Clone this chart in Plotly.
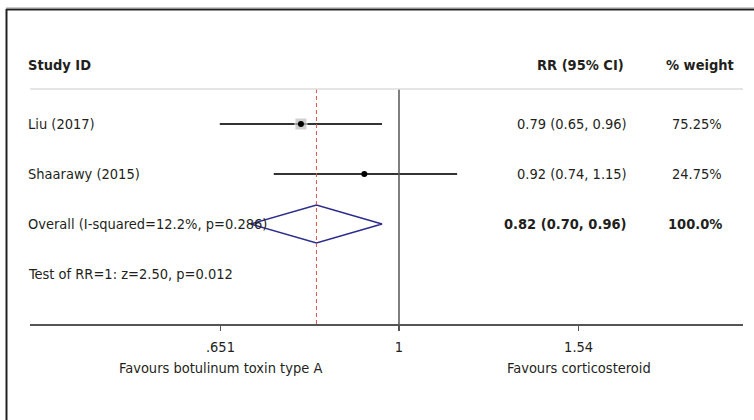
import math
import plotly.graph_objects as go

# ---------------- data ----------------
studies = ["Liu (2017)", "Shaarawy (2015)"]
rr = [0.79, 0.92]
ci_low = [0.65, 0.74]
ci_high = [0.96, 1.15]
weights = [75.25, 24.75]
rr_text = ["0.79 (0.65, 0.96)", "0.92 (0.74, 1.15)"]
weight_text = ["75.25%", "24.75%"]

overall_label = "Overall (I-squared=12.2%, p=0.286)"
overall_rr = 0.82
overall_low = 0.70
overall_high = 0.96
overall_rr_text = "0.82 (0.70, 0.96)"
overall_weight_text = "100.0%"
test_label = "Test of RR=1: z=2.50, p=0.012"

tick_vals = [0.651, 1, 1.54]
tick_text = [".651", "1", "1.54"]
favours_left = "Favours botulinum toxin type A"
favours_right = "Favours corticosteroid"

# ---------------- layout helpers ----------------
W, H = 754, 420
OFF = 0  # body margin removed via post_script
P_LEFT, P_RIGHT, P_TOP, P_BOT = 30, 743, 89, 324
ML = P_LEFT - OFF
MR = W - (P_RIGHT - OFF)
MT = P_TOP - OFF
MB = H - (P_BOT - OFF)
PW = P_RIGHT - P_LEFT
PH = P_BOT - P_TOP
FONT = "Liberation Sans Narrow, DejaVu Sans Condensed, Arial Narrow, sans-serif"
TXT = "#231f20"
FS = 14.5


def px(x):
    return (x - P_LEFT) / PW


def py(y):
    return (P_BOT - y) / PH


rows = [1, 2]
row_overall = 3
row_test = 4

fig = go.Figure()

# CI lines
for i in range(len(studies)):
    fig.add_trace(go.Scatter(x=[ci_low[i], ci_high[i]], y=[rows[i], rows[i]], mode="lines",
                             line=dict(color="#333333", width=2), hoverinfo="skip", showlegend=False))

# weight boxes
fig.add_trace(go.Scatter(x=rr, y=rows, mode="markers",
                         marker=dict(symbol="square", color="#bdbdbd",
                                     size=[12 * w / max(weights) for w in weights]),
                         hoverinfo="skip", showlegend=False))
# point estimates
fig.add_trace(go.Scatter(x=rr, y=rows, mode="markers",
                         marker=dict(symbol="circle", color="#000000", size=6),
                         hoverinfo="skip", showlegend=False))

# overall diamond
dh = 0.38
fig.add_trace(go.Scatter(x=[overall_low, overall_rr, overall_high, overall_rr, overall_low],
                         y=[row_overall, row_overall - dh, row_overall, row_overall + dh, row_overall],
                         mode="lines", line=dict(color="#2b2b8c", width=1.5),
                         hoverinfo="skip", showlegend=False))

shapes = []
# null line
shapes.append(dict(type="line", xref="x", yref="paper", x0=1, x1=1, y0=0, y1=1,
                   line=dict(color="#555555", width=1.5)))
# overall dashed line
shapes.append(dict(type="line", xref="x", yref="paper", x0=overall_rr, x1=overall_rr, y0=0, y1=1,
                   line=dict(color="#d9534f", width=1, dash="4px,3px")))
# header rule
shapes.append(dict(type="line", xref="paper", yref="paper", x0=0, x1=1, y0=1, y1=1,
                   line=dict(color="#dddddd", width=1.5)))
# frame
shapes.append(dict(type="line", xref="paper", yref="paper", x0=px(6), x1=px(780), y0=py(9.5), y1=py(9.5),
                   line=dict(color="#222222", width=2)))
shapes.append(dict(type="line", xref="paper", yref="paper", x0=px(6.5), x1=px(6.5), y0=py(9), y1=py(450),
                   line=dict(color="#222222", width=2)))
shapes.append(dict(type="line", xref="paper", yref="paper", x0=px(6), x1=px(780), y0=py(7.5), y1=py(7.5),
                   line=dict(color="#cccccc", width=1)))

ann = []


def add_text(text, x, y, anchor, bold=False, yref="y"):
    ann.append(dict(text=("<b>%s</b>" % text) if bold else text, x=px(x), y=y, xref="paper", yref=yref,
                    xanchor=anchor, yanchor="middle", showarrow=False,
                    font=dict(family=FONT, size=FS, color=TXT)))


# headers
add_text("Study ID", 26, py(65), "left", bold=True, yref="paper")
add_text("RR (95% CI)", 626, py(65), "right", bold=True, yref="paper")
add_text("% weight", 736, py(65), "right", bold=True, yref="paper")

for i in range(len(studies)):
    add_text(studies[i], 26, rows[i], "left")
    add_text(rr_text[i], 629, rows[i], "right")
    add_text(weight_text[i], 724, rows[i], "right")

add_text(overall_label, 26, row_overall, "left")
add_text(overall_rr_text, 629, row_overall, "right", bold=True)
add_text(overall_weight_text, 724, row_overall, "right", bold=True)
add_text(test_label, 26, row_test, "left")

# favours labels
for val, txt in [(tick_vals[0], favours_left), (tick_vals[2], favours_right)]:
    ann.append(dict(text=txt, x=math.log10(val), y=py(368), xref="x", yref="paper",
                    xanchor="center", yanchor="middle", showarrow=False,
                    font=dict(family=FONT, size=FS, color=TXT)))

k = 416.0
x_lo = math.log10(math.exp((P_LEFT - 399) / k))
x_hi = math.log10(math.exp((P_RIGHT - 399) / k))

fig.update_layout(
    width=W, height=H,
    margin=dict(l=ML, r=MR, t=MT, b=MB, pad=0),
    paper_bgcolor="white", plot_bgcolor="white",
    shapes=shapes, annotations=ann,
    xaxis=dict(type="log", range=[x_lo, x_hi], tickvals=tick_vals, ticktext=tick_text,
               ticks="outside", ticklen=5, tickwidth=1.2, tickcolor="#555555",
               showline=True, linecolor="#555555", linewidth=1.5, showgrid=False, zeroline=False,
               ticklabelstandoff=4,
               tickfont=dict(family=FONT, size=FS, color=TXT), fixedrange=True),
    yaxis=dict(range=[5, 0.3], visible=False, showgrid=False, zeroline=False, fixedrange=True),
    showlegend=False,
)

fig.write_html("out.html", config={"displayModeBar": False, "staticPlot": True},
               post_script="document.body.style.margin='0px';")
